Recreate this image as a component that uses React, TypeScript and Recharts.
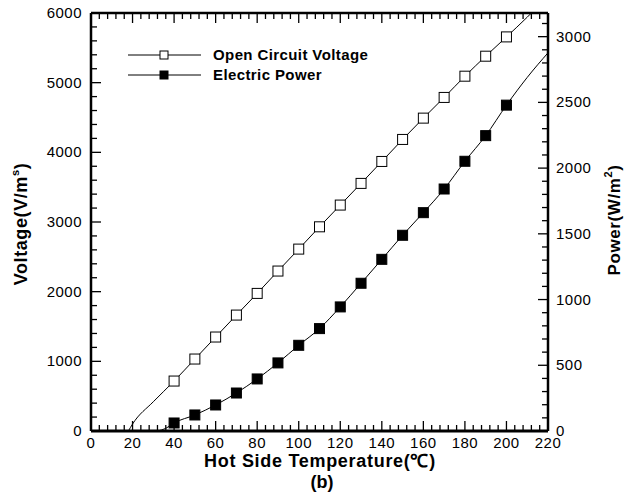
import React from "react";
import {
  ComposedChart,
  Line,
  Scatter,
  XAxis,
  YAxis,
  Legend,
  Label,
} from "recharts";

// hot side temperature (°C) where the markers sit
const temps = [40, 50, 60, 70, 80, 90, 100, 110, 120, 130, 140, 150, 160, 170, 180, 190, 200];
// open circuit voltage (V/m^s), left axis
const voltage = [717, 1033, 1349, 1664, 1975, 2296, 2611, 2931, 3243, 3554, 3869, 4185, 4491, 4788, 5093, 5380, 5657];
// electric power (W/m²), right axis
const power = [61, 122, 198, 289, 396, 518, 652, 779, 944, 1124, 1306, 1489, 1661, 1841, 2052, 2247, 2479];

// curve pieces outside the marker range (no markers)
const voltageHeadT = [18, 20, 30];
const voltageHead = [0, 100, 420];
const voltageTailT = [210, 214];
const voltageTail = [5940, 6060];
const powerHeadT = [32, 36];
const powerHead = [0, 20];
const powerTailT = [210, 220];
const powerTail = [2690, 2877];

const xMajor = [0, 20, 40, 60, 80, 100, 120, 140, 160, 180, 200, 220];
const leftMajor = [0, 1000, 2000, 3000, 4000, 5000, 6000];
const rightMajor = [0, 500, 1000, 1500, 2000, 2500, 3000];

const minorBetween = (major: number[], parts: number) => {
  const out: number[] = [];
  for (let i = 0; i < major.length - 1; i++) {
    const step = (major[i + 1] - major[i]) / parts;
    for (let k = 0; k < parts; k++) out.push(major[i] + k * step);
  }
  out.push(major[major.length - 1]);
  return out;
};

const xTicks = minorBetween(xMajor, 5);
const leftTicks = minorBetween(leftMajor, 5);
const rightTicks = [...minorBetween(rightMajor, 5), 3100];

const pts = (xs: number[], ys: number[]) => xs.map((t, i) => ({ t, y: ys[i] }));

const voltagePts = pts(temps, voltage);
const powerPts = pts(temps, power);
const voltageCurve = [...pts(voltageHeadT, voltageHead), ...voltagePts, ...pts(voltageTailT, voltageTail)];
const powerCurve = [...pts(powerHeadT, powerHead), ...powerPts, ...pts(powerTailT, powerTail)];

const FONT = '"Liberation Sans", Arial, sans-serif';

const BottomTick = ({ x, y, payload }: any) => {
  const major = xMajor.includes(payload.value);
  return (
    <g>
      <line x1={x} x2={x} y1={y} y2={y - (major ? 10 : 6)} stroke="#000" strokeWidth={1.3} />
      {major && (
        <text x={x} y={y + 17} textAnchor="middle" fontSize={15} fontFamily={FONT} letterSpacing={0.5} fill="#000">
          {payload.value}
        </text>
      )}
    </g>
  );
};

const TopTick = ({ x, y, payload }: any) => {
  const major = xMajor.includes(payload.value);
  return <line x1={x} x2={x} y1={y} y2={y + (major ? 10 : 6)} stroke="#000" strokeWidth={1.3} />;
};

const LeftTick = ({ x, y, payload }: any) => {
  const major = leftMajor.includes(payload.value);
  return (
    <g>
      <line x1={x} x2={x + (major ? 10 : 6)} y1={y} y2={y} stroke="#000" strokeWidth={1.3} />
      {major && (
        <text x={x - 9} y={y + 5} textAnchor="end" fontSize={15} fontFamily={FONT} letterSpacing={0.5} fill="#000">
          {payload.value}
        </text>
      )}
    </g>
  );
};

const RightTick = ({ x, y, payload }: any) => {
  const major = rightMajor.includes(payload.value);
  return (
    <g>
      <line x1={x} x2={x - (major ? 10 : 6)} y1={y} y2={y} stroke="#000" strokeWidth={1.3} />
      {major && (
        <text x={x + 8} y={y + 5} textAnchor="start" fontSize={15} fontFamily={FONT} letterSpacing={0.5} fill="#000">
          {payload.value}
        </text>
      )}
    </g>
  );
};

const square = (fill: string) => (p: any) =>
  <rect x={p.cx - 5} y={p.cy - 5} width={10} height={10} fill={fill} stroke="#000" strokeWidth={1} />;

const legendItems = [
  { name: "Open Circuit Voltage", fill: "#fff" },
  { name: "Electric Power", fill: "#000" },
];

const LegendBox = () => (
  <svg width={280} height={40} style={{ display: "block" }}>
    {legendItems.map((item, i) => (
      <g key={item.name} transform={`translate(0, ${i * 20})`}>
        <line x1={0} x2={73} y1={10} y2={10} stroke="#000" strokeWidth={1} />
        <rect x={32} y={6} width={8} height={8} fill={item.fill} stroke="#000" />
        <text x={85} y={15} fontSize={15} fontWeight="bold" fontFamily={FONT} letterSpacing={0.4} fill="#000">
          {item.name}
        </text>
      </g>
    ))}
  </svg>
);

export default function App() {
  return (
    <div style={{ position: "absolute", left: 0, top: 0, background: "#fff" }}>
      <ComposedChart width={631} height={492} margin={{ top: 8, right: 23, bottom: 31, left: 31 }}>
        <XAxis
          xAxisId="bottom"
          dataKey="t"
          type="number"
          domain={[0, 220]}
          ticks={xTicks}
          interval={0}
          height={30}
          tickSize={0}
          tickMargin={0}
          tickLine={false}
          tick={<BottomTick />}
          axisLine={{ stroke: "#000", strokeWidth: 3 }}
          allowDataOverflow
        >
          <Label
            content={() => (
              <g fontFamily={FONT} fontWeight="bold" fontSize={18} fill="#000">
                <text x={320} y={467} textAnchor="middle" letterSpacing={0.7}>Hot Side Temperature(℃)</text>
                <text x={322} y={488} textAnchor="middle">(b)</text>
              </g>
            )}
          />
        </XAxis>
        <XAxis
          xAxisId="top"
          orientation="top"
          dataKey="t"
          type="number"
          domain={[0, 220]}
          ticks={xTicks}
          interval={0}
          height={5}
          tickSize={0}
          tickMargin={0}
          tickLine={false}
          tick={<TopTick />}
          axisLine={{ stroke: "#000", strokeWidth: 2.5 }}
          allowDataOverflow
        />
        <YAxis
          yAxisId="left"
          type="number"
          domain={[0, 6000]}
          ticks={leftTicks}
          interval={0}
          width={60}
          tickSize={0}
          tickMargin={0}
          tickLine={false}
          tick={<LeftTick />}
          axisLine={{ stroke: "#000", strokeWidth: 2.5 }}
          allowDataOverflow
        >
          <Label
            content={() => (
              <text
                transform="translate(27, 224) rotate(-90)"
                textAnchor="middle"
                fontFamily={FONT}
                fontWeight="bold"
                fontSize={18}
                letterSpacing={0.6}
                fill="#000"
              >
                Voltage(V/m<tspan fontSize={11} dy={-8}>s</tspan><tspan dy={8}>)</tspan>
              </text>
            )}
          />
        </YAxis>
        <YAxis
          yAxisId="right"
          orientation="right"
          type="number"
          domain={[0, 3180]}
          ticks={rightTicks}
          interval={0}
          width={60}
          tickSize={0}
          tickMargin={0}
          tickLine={false}
          tick={<RightTick />}
          axisLine={{ stroke: "#000", strokeWidth: 2.5 }}
          allowDataOverflow
        >
          <Label
            content={() => (
              <text
                transform="translate(620, 220) rotate(-90)"
                textAnchor="middle"
                fontFamily={FONT}
                fontWeight="bold"
                fontSize={17}
                letterSpacing={0.6}
                fill="#000"
              >
                Power(W/m<tspan fontSize={11} dy={-8}>2</tspan><tspan dy={8}>)</tspan>
              </text>
            )}
          />
        </YAxis>
        <Legend
          layout="horizontal"
          verticalAlign="middle"
          align="center"
          wrapperStyle={{ left: 128, top: 45, width: 280, height: 40 }}
          content={() => <LegendBox />}
        />
        <Line
          data={voltageCurve}
          xAxisId="bottom"
          yAxisId="left"
          dataKey="y"
          type="monotone"
          stroke="#000"
          strokeWidth={1}
          dot={false}
          activeDot={false}
          isAnimationActive={false}
          legendType="none"
        />
        <Line
          data={powerCurve}
          xAxisId="bottom"
          yAxisId="right"
          dataKey="y"
          type="monotone"
          stroke="#000"
          strokeWidth={1}
          dot={false}
          activeDot={false}
          isAnimationActive={false}
          legendType="none"
        />
        <Scatter
          data={voltagePts}
          xAxisId="bottom"
          yAxisId="left"
          dataKey="y"
          shape={square("#fff")}
          isAnimationActive={false}
        />
        <Scatter
          data={powerPts}
          xAxisId="bottom"
          yAxisId="right"
          dataKey="y"
          shape={square("#000")}
          isAnimationActive={false}
        />
      </ComposedChart>
    </div>
  );
}
